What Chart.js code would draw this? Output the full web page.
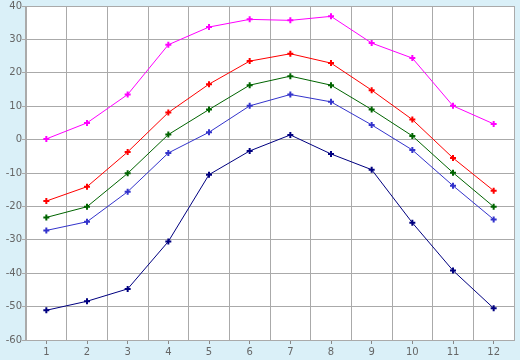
<!DOCTYPE html>
<html>
<head>
<meta charset="utf-8">
<script src="https://cdn.jsdelivr.net/npm/chart.js@4"></script>
<style>
  html, body { margin: 0; padding: 0; background: #daf0f8; }
  #wrap { position: relative; width: 520px; height: 360px; }
</style>
</head>
<body>
<div id="wrap"><canvas id="myChart"></canvas></div>
<script>
const months = ['1', '2', '3', '4', '5', '6', '7', '8', '9', '10', '11', '12'];

const seriesMax = [0.2, 5.0, 13.5, 28.4, 33.7, 36.0, 35.7, 36.9, 28.9, 24.4, 10.1, 4.7];
const seriesHigh = [-18.4, -14.1, -3.7, 8.1, 16.6, 23.5, 25.7, 22.9, 14.8, 6.0, -5.5, -15.3];
const seriesMean = [-23.3, -20.1, -10.1, 1.5, 9.0, 16.3, 19.0, 16.3, 9.0, 1.1, -9.9, -20.1];
const seriesLow = [-27.2, -24.6, -15.6, -4.0, 2.2, 10.1, 13.5, 11.3, 4.4, -3.1, -13.8, -23.9];
const seriesMin = [-51.1, -48.4, -44.7, -30.5, -10.5, -3.4, 1.4, -4.3, -9.0, -24.9, -39.2, -50.5];

const yMin = -60;
const yMax = 40;
const yStep = 10;

const GRID = '#aaaaaa';
const TEXT = '#666666';

function line(data, color) {
  return {
    data: data,
    borderColor: color,
    backgroundColor: color,
    borderWidth: 1,
    pointStyle: 'cross',
    pointRadius: 3,
    pointBorderWidth: 2,
    tension: 0,
    fill: false,
  };
}

// white plot area on the light blue page
const plotBackground = {
  id: 'plotBackground',
  beforeDraw(chart) {
    const { ctx, chartArea: { left, top, width, height } } = chart;
    ctx.save();
    ctx.fillStyle = '#ffffff';
    ctx.fillRect(left, top, width, height);
    ctx.restore();
  },
};

const ctx = document.getElementById('myChart').getContext('2d');
new Chart(ctx, {
  type: 'line',
  data: {
    labels: months,
    datasets: [
      line(seriesMax, '#ff00ff'),
      line(seriesHigh, '#ff0000'),
      line(seriesMean, '#006400'),
      line(seriesLow, '#3333cc'),
      line(seriesMin, '#000080'),
    ],
  },
  options: {
    responsive: true,
    maintainAspectRatio: false,
    animation: false,
    layout: { padding: { top: 5, right: 5, left: 0, bottom: 0 } },
    plugins: {
      legend: { display: false },
      tooltip: { enabled: false },
    },
    scales: {
      x: {
        type: 'category',
        offset: true,
        weight: 1,
        grid: { offset: false, drawOnChartArea: false, tickLength: 4, color: '#888888' },
        border: { display: true, color: GRID },
        ticks: { color: TEXT, padding: 2, maxRotation: 0, autoSkip: false, font: { family: 'DejaVu Sans', size: 10 } },
        afterFit(scale) {
          scale.height = 20;
          scale.paddingLeft = 0;
          scale.paddingRight = 0;
        },
      },
      // vertical grid lines sit between the months
      xg: {
        type: 'category',
        labels: months,
        position: 'bottom',
        offset: true,
        weight: 0,
        grid: { offset: true, drawTicks: false, color: GRID },
        border: { display: false },
        ticks: { display: false },
        afterFit(scale) {
          scale.height = 0;
          scale.paddingLeft = 0;
          scale.paddingRight = 0;
        },
      },
      y: {
        min: yMin,
        max: yMax,
        grid: { color: GRID, tickLength: 4 },
        border: { display: true, color: GRID },
        ticks: { stepSize: yStep, color: TEXT, padding: 0, font: { family: 'DejaVu Sans', size: 10 } },
        afterFit(scale) {
          scale.width = 26;
          scale.paddingTop = 0;
          scale.paddingBottom = 0;
        },
      },
    },
  },
  plugins: [plotBackground],
});
</script>
</body>
</html>
